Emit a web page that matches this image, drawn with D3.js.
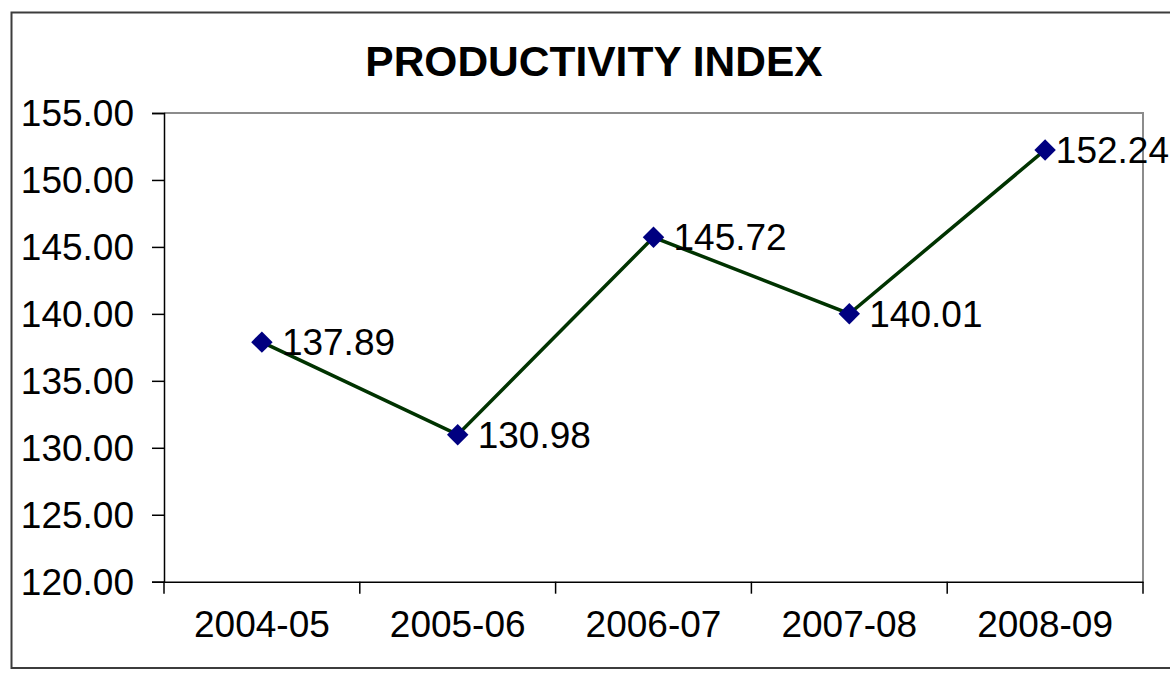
<!DOCTYPE html>
<html>
<head>
<meta charset="utf-8">
<script src="https://cdn.jsdelivr.net/npm/d3@7"></script>
<style>
  body { margin: 0; background: #fff; }
  svg text { font-family: "Liberation Sans", Arial, sans-serif; fill: #000; }
</style>
</head>
<body>
<div id="chart"></div>
<script>
var years = ["2004-05", "2005-06", "2006-07", "2007-08", "2008-09"]
var index = [137.89, 130.98, 145.72, 140.01, 152.24]
var yTicks = [120, 125, 130, 135, 140, 145, 150, 155]

var width = 1170, height = 673
var plot = {left: 164, right: 1143, top: 113, bottom: 581.7}

var svg = d3.select("#chart").append("svg").attr("width", width).attr("height", height)

// outer chart border
svg.append("rect")
  .attr("x", 11.5).attr("y", 12.5)
  .attr("width", 1170).attr("height", 655.5)
  .attr("fill", "none").attr("stroke", "#3c3c3c").attr("stroke-width", 2)

svg.append("text")
  .attr("x", 594).attr("y", 76)
  .attr("text-anchor", "middle")
  .attr("font-size", 42.5).attr("font-weight", "bold")
  .text("PRODUCTIVITY INDEX")

var x = d3.scaleBand().domain(years).range([plot.left, plot.right])
var y = d3.scaleLinear().domain([120, 155]).range([plot.bottom, plot.top])

// plot area frame (top + right in grey)
svg.append("path")
  .attr("d", "M" + plot.left + "," + y(155) + "H" + plot.right + "V" + plot.bottom)
  .attr("fill", "none").attr("stroke", "#8c8c8c").attr("stroke-width", 2)

var yAxis = svg.append("g")
  .attr("transform", "translate(" + plot.left + ",0)")
  .call(d3.axisLeft(y).tickValues(yTicks).tickSize(12).tickPadding(18).tickFormat(d3.format(".2f")))
yAxis.selectAll("text").attr("font-size", 37).attr("dy", "0.35em")

var xAxis = svg.append("g")
  .attr("transform", "translate(0," + plot.bottom + ")")
  .call(d3.axisBottom(x).tickSize(0).tickPadding(42))
xAxis.selectAll("text").attr("font-size", 37).attr("dy", "0.35em")

// category separators below the axis
svg.append("g").selectAll("line")
  .data(years.concat(["end"]))
  .enter().append("line")
  .attr("x1", function(d, i){ return plot.left + i * x.bandwidth() })
  .attr("x2", function(d, i){ return plot.left + i * x.bandwidth() })
  .attr("y1", plot.bottom).attr("y2", plot.bottom + 12)
  .attr("stroke", "#000").attr("stroke-width", 1.5)

svg.selectAll(".domain").attr("stroke", "#000").attr("stroke-width", 1.5)
svg.selectAll(".tick line").attr("stroke", "#000").attr("stroke-width", 1.5)

var cx = function(d, i){ return x(years[i]) + x.bandwidth() / 2 }

var line = d3.line().x(cx).y(function(d){ return y(d) })
svg.append("path")
  .datum(index)
  .attr("d", line)
  .attr("fill", "none").attr("stroke", "#003300").attr("stroke-width", 3.5)

svg.selectAll(".dot")
  .data(index)
  .enter().append("path")
  .attr("class", "dot")
  .attr("d", d3.symbol().type(d3.symbolSquare).size(230))
  .attr("transform", function(d, i){ return "translate(" + cx(d, i) + "," + y(d) + ") rotate(45)" })
  .attr("fill", "#000080")

var labels = svg.selectAll(".lbl")
  .data(index)
  .enter().append("text")
  .attr("class", "lbl")
  .attr("font-size", 37)
  .attr("x", function(d, i){ return cx(d, i) + 20 })
  .attr("y", function(d){ return y(d) })
  .attr("dy", "0.35em")
  .text(function(d){ return d.toFixed(2) })

// keep labels inside the chart area like the spreadsheet does
labels.each(function(){
  var b = this.getBBox()
  if (b.x + b.width > 1169) d3.select(this).attr("x", 1169 - b.width)
})
</script>
</body>
</html>
